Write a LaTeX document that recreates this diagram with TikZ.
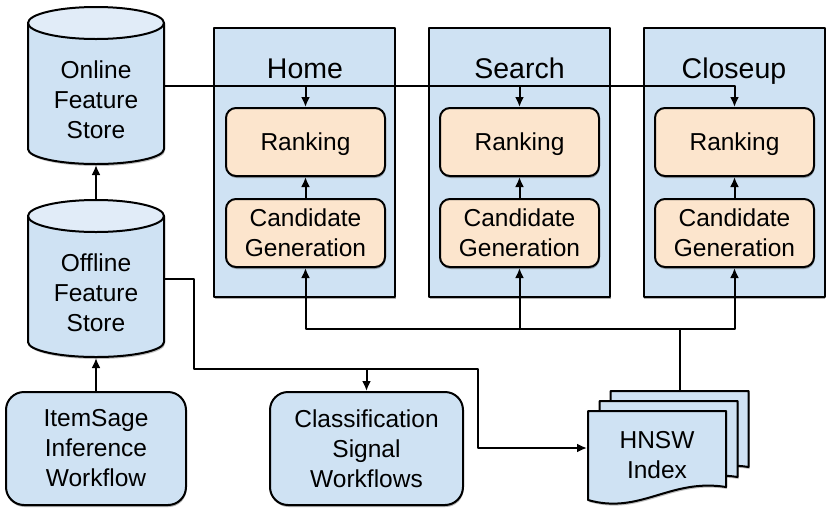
\documentclass[tikz,border=0pt]{standalone}
\usepackage{fontspec}
\setmainfont{Liberation Sans}
\usetikzlibrary{arrows.meta,shadows}
\definecolor{bluefill}{HTML}{CFE2F3}
\definecolor{bluetop}{HTML}{E1ECF8}
\definecolor{peach}{HTML}{FCE5CD}
\newcommand\dbcyl[2]{%
  \fill[black,opacity=0.25] (29,-#1-2) -- (29,-#2-2) arc[start angle=180,end angle=360,x radius=68,y radius=15] -- (165,-#1-2) -- cycle;
  \draw[fill=bluefill] (28,-#1) -- (28,-#2) arc[start angle=180,end angle=360,x radius=68,y radius=15] -- (164,-#1) -- cycle;
  \draw[fill=bluetop] (96,-#1) ellipse[x radius=68,y radius=16];}
\newcommand\docsheet[2]{%
  \fill[black,opacity=0.25] (#1+1,#2-2) -- ++(138,0) -- ++(0,-76) .. controls +(-56,9) and +(52,-15) .. ++(-138,-13) -- cycle;
  \draw[fill=bluefill] (#1,#2) -- ++(138,0) -- ++(0,-76) .. controls +(-56,9) and +(52,-15) .. ++(-138,-13) -- cycle;}
\begin{document}
\begin{tikzpicture}[x=1pt,y=1pt,line width=2pt,line join=round,
  font=\fontsize{24.5}{30}\selectfont,
  arr/.style={-{Latex[length=10pt,width=9pt]}},
  shad/.style={drop shadow={shadow xshift=0.6pt,shadow yshift=-2pt,opacity=0.3,fill=black}},
  colbox/.style={draw,fill=bluefill,minimum width=181pt,minimum height=269pt,inner sep=0pt,shad},
  orange/.style={draw,fill=peach,rounded corners=10pt,minimum width=159pt,minimum height=68pt,inner sep=0pt,align=center,shad},
  rankbox/.style={orange,text depth=0pt},
  wflow/.style={draw,fill=bluefill,rounded corners=18pt,minimum height=113pt,inner sep=0pt,align=center,shad},
  ghost/.style={inner sep=0pt},
  title/.style={anchor=base,font=\fontsize{28.5}{34}\selectfont}]
\useasboundingbox (0,0) rectangle (830,-512);

% cylinders
\dbcyl{23}{149}
\dbcyl{216}{342}
\node[ghost,minimum width=136pt,minimum height=157pt] (online) at (96,-85.5) {};
\node[ghost,minimum width=136pt,minimum height=157pt] (offline) at (96,-278.5) {};
\node[align=center] (onlinetxt) at (96,-100) {Online\\Feature\\Store};
\node[align=center] (offlinetxt) at (96,-293) {Offline\\Feature\\Store};

% surface columns
\node[colbox] (home) at (304.5,-162.5) {};
\node[colbox] (search) at (519.5,-162.5) {};
\node[colbox] (closeup) at (734,-162.5) {};
\node[title] (hometxt) at (305,-78) {Home};
\node[title] (searchtxt) at (519.5,-78) {Search};
\node[title] (closeuptxt) at (734,-78) {Closeup};

\node[rankbox] (rank1) at (305.5,-142) {Ranking};
\node[rankbox] (rank2) at (519.5,-142) {Ranking};
\node[rankbox] (rank3) at (734.5,-142) {Ranking};
\node[orange] (cand1) at (305.5,-233) {Candidate\\Generation};
\node[orange] (cand2) at (519.5,-233) {Candidate\\Generation};
\node[orange] (cand3) at (734.5,-233) {Candidate\\Generation};

% workflows
\node[wflow,minimum width=180pt] (itemsage) at (96,-448.5) {ItemSage\\Inference\\Workflow};
\node[wflow,minimum width=193pt] (classif) at (366.5,-448.5) {Classification\\Signal\\Workflows};

% HNSW index
\docsheet{610.5}{-391}
\docsheet{599.5}{-401}
\docsheet{588}{-411}
\node[ghost,minimum width=138pt,minimum height=76pt] (hnswback) at (679.5,-429) {};
\node[ghost,minimum width=138pt,minimum height=74pt] (hnsw) at (657,-448) {};
\node[align=center] (hnswtxt) at (657,-455) {HNSW\\Index};

% connectors
\draw[arr] (offline.north) -- (online.south);
\draw[arr] (itemsage.north) -- (offline.south);
\draw[arr] (online.east) -| (rank3.north);
\draw[arr] (online.east -| rank1.north) -- (rank1.north);
\draw[arr] (online.east -| rank2.north) -- (rank2.north);
\draw[arr] (cand1.north) -- (rank1.south);
\draw[arr] (cand2.north) -- (rank2.south);
\draw[arr] (cand3.north) -- (rank3.south);

\coordinate (bus) at (679.5,-329);
\draw (hnswback.north) -- (bus);
\draw[arr] (bus) -| (cand1.south);
\draw[arr] (bus) -| (cand3.south);
\draw[arr] (cand2.south |- bus) -- (cand2.south);

\coordinate (j1) at (194,-369);
\coordinate (j2) at (478,-369);
\draw[arr] (offline.east) -| (j1) -- (j2) |- (hnsw.west);
\draw[arr] (classif.north |- j1) -- (classif.north);
\end{tikzpicture}
\end{document}
